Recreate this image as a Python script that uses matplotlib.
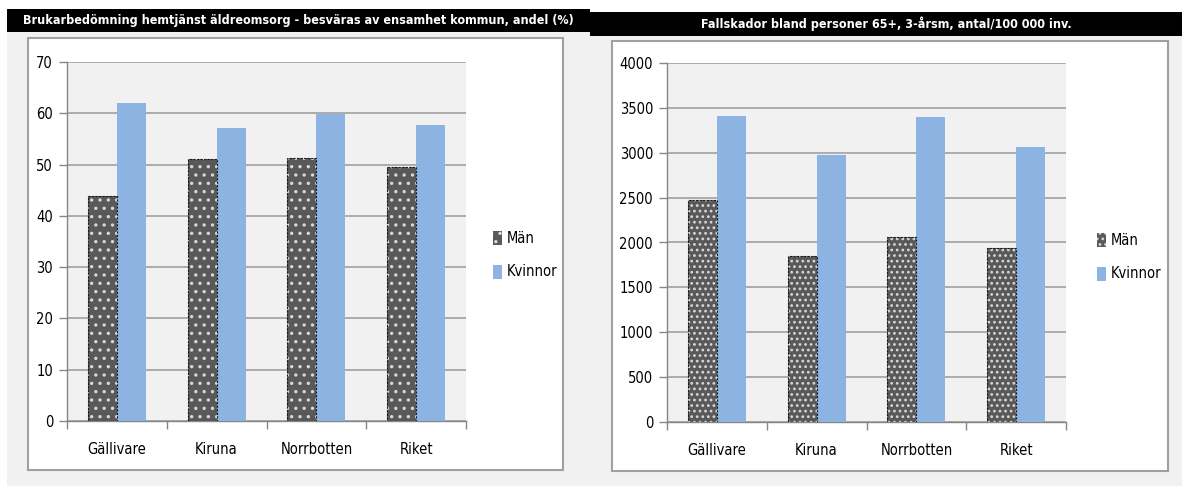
import matplotlib
matplotlib.use("Agg")
import matplotlib.pyplot as plt
from matplotlib.patches import Rectangle
import numpy as np

plt.rcParams['font.family'] = ['DejaVu Sans']
plt.rcParams['font.stretch'] = 'condensed'
plt.rcParams['hatch.linewidth'] = 1.2

categories = ["Gällivare", "Kiruna", "Norrbotten", "Riket"]
series_names = ["Män", "Kvinnor"]

left_title = "Brukarbedömning hemtjänst äldreomsorg - besväras av ensamhet kommun, andel (%)"
left_man = [43.9, 51.0, 51.2, 49.6]
left_kvinnor = [62.1, 57.2, 59.8, 57.8]

right_title = "Fallskador bland personer 65+, 3-årsm, antal/100 000 inv."
right_man = [2474, 1851, 2064, 1940]
right_kvinnor = [3414, 2971, 3395, 3064]

W, H = 1182, 486
fig = plt.figure(figsize=(W / 100, H / 100), dpi=100)
fig.patch.set_facecolor("white")


def fbox(x0, y0, x1, y1):
    # pixel box (top-left origin) -> figure fraction [l, b, w, h]
    return [x0 / W, 1 - y1 / H, (x1 - x0) / W, (y1 - y0) / H]


def frect(x0, y0, x1, y1, **kw):
    l, b, w, h = fbox(x0, y0, x1, y1)
    fig.add_artist(Rectangle((l, b), w, h, transform=fig.transFigure, **kw))


GREY_BG = "#f1f1f1"
MAN_COL = "#595959"
KV_COL = "#8db3e2"
GRID = "#a6a6a6"


def panel(bg, bar, box, plot, title, man, kv, ymax, ystep, hatch, leg_xy, tsize):
    frect(*bg, facecolor=GREY_BG, edgecolor="none", zorder=0)
    frect(*bar, facecolor="black", edgecolor="none", zorder=1)
    fig.text((bar[0] + bar[2]) / 2 / W, 1 - (bar[1] + bar[3]) / 2 / H, title,
             color="white", fontsize=tsize, fontweight="bold",
             ha="center", va="center", zorder=2)
    frect(*box, facecolor="white", edgecolor="#a0a0a0", linewidth=1.5, zorder=1)

    ax = fig.add_axes(fbox(*plot))
    ax.set_zorder(3)
    ax.set_facecolor(GREY_BG)
    x = np.arange(len(categories))
    w = 0.29
    bm = ax.bar(x - w / 2, man, w, color=MAN_COL, edgecolor="#d8d8d8",
                hatch=hatch, linewidth=0, zorder=3, label=series_names[0])
    ax.bar(x - w / 2, man, w, fill=False, edgecolor="#1a1a1a",
           linestyle=(0, (2, 1.2)), linewidth=0.8, zorder=4)
    bk = ax.bar(x + w / 2, kv, w, color=KV_COL, linewidth=0, zorder=3,
                label=series_names[1])

    ax.set_xlim(-0.5, len(categories) - 0.5)
    ax.set_ylim(0, ymax)
    ax.set_yticks(np.arange(0, ymax + 1, ystep))
    ax.yaxis.grid(True, color=GRID, linewidth=1.3)
    ax.set_axisbelow(True)
    ax.set_xticks(x, categories)
    ax.set_xticks(np.arange(-0.5, len(categories)), minor=True)
    ax.tick_params(axis="x", which="major", length=0, pad=15, labelsize=10.5)
    ax.tick_params(axis="x", which="minor", length=6, color="#868686", width=1)
    ax.tick_params(axis="y", length=6, color="#868686", width=1, pad=4,
                   labelsize=10.5)
    for s in ["top", "right"]:
        ax.spines[s].set_visible(False)
    for s in ["left", "bottom"]:
        ax.spines[s].set_color("#868686")
        ax.spines[s].set_linewidth(1)

    fig.legend([bm, bk], series_names, loc="center left",
               bbox_to_anchor=(leg_xy[0] / W, 1 - leg_xy[1] / H),
               frameon=False, fontsize=10.5, handlelength=0.6,
               handleheight=1.1, handletextpad=0.35, labelspacing=1.3)
    return ax


panel(bg=(7, 32, 590, 486), bar=(7, 9, 590, 32), box=(28, 38, 563, 470),
      plot=(67, 62, 466, 421), title=left_title, man=left_man, kv=left_kvinnor,
      ymax=70, ystep=10, hatch="..", leg_xy=(480, 255), tsize=9)

panel(bg=(590, 36, 1182, 486), bar=(590, 12, 1182, 36), box=(612, 41, 1168, 471),
      plot=(667, 63, 1066, 422), title=right_title, man=right_man,
      kv=right_kvinnor, ymax=4000, ystep=500, hatch="...", leg_xy=(1084, 257),
      tsize=9)

fig.savefig("out.png", dpi=100, facecolor=fig.get_facecolor())
